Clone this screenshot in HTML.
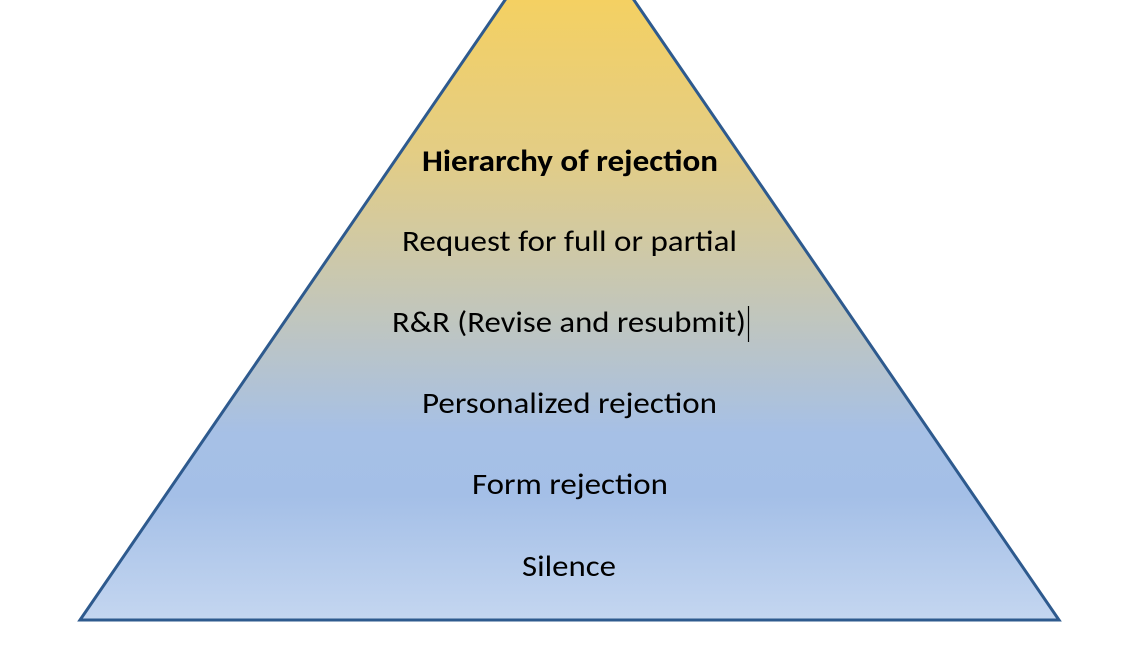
<!DOCTYPE html>
<html><head><style>
html,body{margin:0;padding:0;background:#fff;width:1130px;height:650px;overflow:hidden}
</style></head><body>
<svg width="1130" height="650" viewBox="0 0 1130 650" xmlns="http://www.w3.org/2000/svg">
<defs>
<linearGradient id="g" x1="0" y1="0" x2="0" y2="620" gradientUnits="userSpaceOnUse">
<stop offset="0" stop-color="#f4d062"/>
<stop offset="0.25" stop-color="#e3cd85"/>
<stop offset="0.5" stop-color="#c2c6bb"/>
<stop offset="0.7" stop-color="#a6c0e6"/>
<stop offset="0.8" stop-color="#a4bfe7"/>
<stop offset="1" stop-color="#c4d6f0"/>
</linearGradient>
</defs>
<polygon points="569.5,-94 1059,620 80,620" fill="url(#g)" stroke="#2e5a8e" stroke-width="3" stroke-linejoin="miter"/>
<g font-family="Carlito, 'Liberation Sans', sans-serif" font-size="30" fill="#000" lengthAdjust="spacingAndGlyphs">
<text x="422" y="171" font-weight="bold" textLength="296" lengthAdjust="spacingAndGlyphs">Hierarchy of rejection</text>
<text x="402" y="251" textLength="335" lengthAdjust="spacingAndGlyphs">Request for full or partial</text>
<text x="392" y="332" textLength="354" lengthAdjust="spacingAndGlyphs">R&amp;R (Revise and resubmit)</text>
<text x="422" y="413" textLength="295" lengthAdjust="spacingAndGlyphs">Personalized rejection</text>
<text x="472" y="494" textLength="196" lengthAdjust="spacingAndGlyphs">Form rejection</text>
<text x="522" y="576" textLength="94" lengthAdjust="spacingAndGlyphs">Silence</text>
</g>
<line x1="748.5" y1="306" x2="748.5" y2="342" stroke="#000" stroke-width="1.2"/>
</svg>
</body></html>
